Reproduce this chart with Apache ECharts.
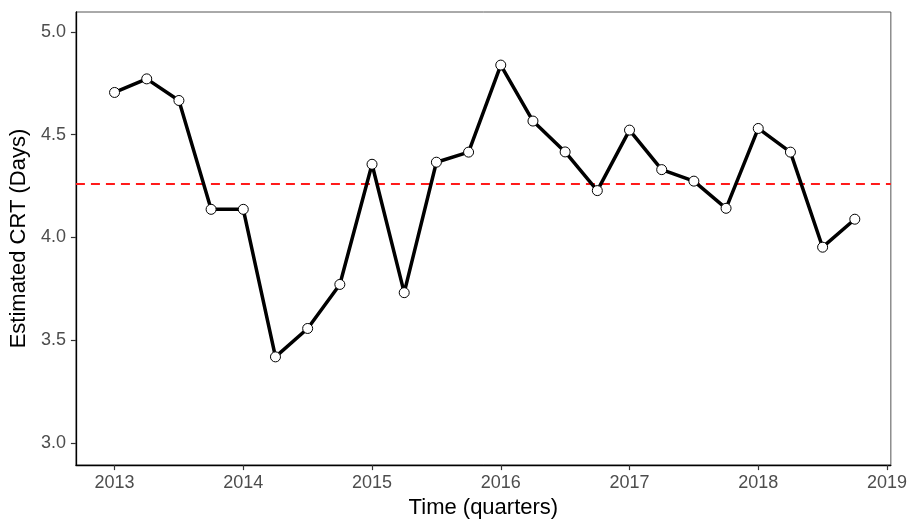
<!DOCTYPE html>
<html>
<head>
<meta charset="utf-8">
<script src="https://cdn.jsdelivr.net/npm/echarts@6/dist/echarts.min.js"></script>
<style>
html,body{margin:0;padding:0;background:#fff;}
#chart{width:910px;height:524px;}
</style>
</head>
<body>
<div id="chart"></div>
<script>
const quarters = [2013, 2013.25, 2013.5, 2013.75, 2014, 2014.25, 2014.5, 2014.75,
                  2015, 2015.25, 2015.5, 2015.75, 2016, 2016.25, 2016.5, 2016.75,
                  2017, 2017.25, 2017.5, 2017.75, 2018, 2018.25, 2018.5, 2018.75];
const crt = [4.705, 4.771, 4.666, 4.137, 4.137, 3.420, 3.558, 3.772,
             4.356, 3.732, 4.366, 4.415, 4.838, 4.566, 4.416, 4.228,
             4.522, 4.330, 4.274, 4.142, 4.530, 4.415, 3.953, 4.089];
const meanCRT = 4.265;
const xTicks = [2013, 2014, 2015, 2016, 2017, 2018, 2019];
const yTicks = [3.0, 3.5, 4.0, 4.5, 5.0];

const FONT = "'Liberation Sans', Arial, sans-serif";
const chart = echarts.init(document.getElementById('chart'), null, {renderer: 'canvas'});
chart.setOption({
  animation: false,
  backgroundColor: '#ffffff',
  grid: {left: 73, right: 14, top: 12, bottom: 54, show: true, borderColor: '#555', borderWidth: 1, containLabel: false},
  xAxis: {
    type: 'value', min: 2012.70, max: 2019.03,
    name: 'Time (quarters)', nameLocation: 'middle', nameGap: 28,
    nameTextStyle: {fontFamily: FONT, fontSize: 22, color: '#000'},
    axisLine: {show: true, onZero: false, lineStyle: {color: '#000', width: 1.3}},
    axisTick: {show: true, length: 5, customValues: xTicks, lineStyle: {color: '#333', width: 1.2}},
    axisLabel: {customValues: xTicks, margin: 9, fontFamily: FONT, fontSize: 18, color: '#4d4d4d',
                formatter: v => String(Math.round(v))},
    splitLine: {show: false}
  },
  yAxis: {
    type: 'value', min: 2.894, max: 5.096,
    name: 'Estimated CRT (Days)', nameLocation: 'middle', nameGap: 42,
    nameTextStyle: {fontFamily: FONT, fontSize: 22, color: '#000'},
    axisLine: {show: true, onZero: false, lineStyle: {color: '#000', width: 1.3}},
    axisTick: {show: true, length: 5, customValues: yTicks, lineStyle: {color: '#333', width: 1.2}},
    axisLabel: {customValues: yTicks, margin: 10, fontFamily: FONT, fontSize: 18, color: '#4d4d4d',
                formatter: v => v.toFixed(1)},
    splitLine: {show: false}
  },
  series: [{
    type: 'line',
    data: quarters.map((q, i) => [q, crt[i]]),
    lineStyle: {color: '#000', width: 3.5},
    symbol: 'circle', symbolSize: 10,
    itemStyle: {color: '#fff', borderColor: '#000', borderWidth: 1},
    z: 3,
    markLine: {
      silent: true, symbol: 'none', label: {show: false},
      lineStyle: {color: '#ff1a1a', type: [9, 6], width: 2},
      data: [{yAxis: meanCRT}],
      z: 2
    }
  }]
});
</script>
</body>
</html>
